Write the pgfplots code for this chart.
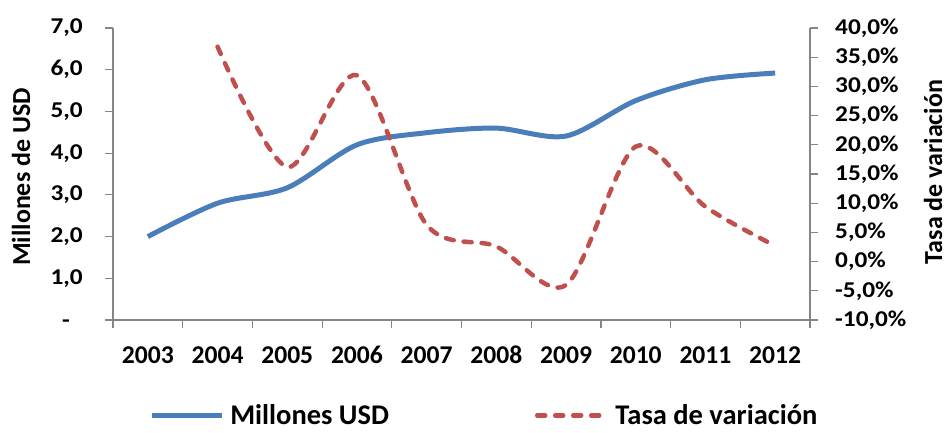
\documentclass[border=0pt]{standalone}
\usepackage{pgfplots}
\pgfplotsset{compat=1.18}
\usepackage{fontspec}
\setmainfont{Carlito}
\newfontfamily\ytfont{Carlito}[FakeStretch=1.12]
\definecolor{bl}{HTML}{4A7EBB}
\definecolor{rd}{HTML}{C0504D}
\definecolor{axc}{HTML}{868686}
\begin{document}
\begin{tikzpicture}[x=1pt,y=1pt]
\path[use as bounding box] (0,0) rectangle (947,432);
\pgfplotsset{
  common/.style={
    width=697pt, height=292pt, scale only axis,
    at={(113pt,112pt)}, anchor=south west,
    xmin=0, xmax=10,
    tick align=outside,
    major tick length=8pt, minor tick length=8pt,
    axis line style={axc, line width=1.2pt},
    every tick/.style={axc, line width=1.2pt},
    y tick label style={font=\ytfont\bfseries\fontsize{22.6}{23}\selectfont, inner sep=0pt},
  }
}
\begin{axis}[common,
  axis x line*=bottom, axis y line*=left,
  ymin=0, ymax=7,
  xtick={0.5,1.5,2.5,3.5,4.5,5.5,6.5,7.5,8.5,9.5},
  xticklabels={2003,2004,2005,2006,2007,2008,2009,2010,2011,2012},
  minor xtick={0,1,2,3,4,5,6,7,8,9,10},
  major x tick style={draw=none},
  x tick label style={font=\bfseries\fontsize{25.6}{26}\selectfont, inner sep=0pt, anchor=base, yshift=-35pt},
  ytick={0,1,2,3,4,5,6,7},
  yticklabels={{\phantom{0}-\phantom{0}},{1,0},{2,0},{3,0},{4,0},{5,0},{6,0},{7,0}},
  y tick label style={anchor=east, xshift=-22pt},
]
\addplot[bl, line width=5pt, smooth, tension=0.5] coordinates {
(0.5,2.00) (1.5,2.80) (2.5,3.17) (3.5,4.20) (4.5,4.49) (5.5,4.60) (6.5,4.41) (7.5,5.26) (8.5,5.76) (9.5,5.92)};
\end{axis}
\begin{axis}[common,
  axis x line=none, axis y line*=right,
  ymin=-10, ymax=40,
  ytick={-10,-5,0,5,10,15,20,25,30,35,40},
  yticklabels={{-10,0\%},{-5,0\%},{0,0\%},{5,0\%},{10,0\%},{15,0\%},{20,0\%},{25,0\%},{30,0\%},{35,0\%},{40,0\%}},
  y tick label style={anchor=west, xshift=17pt},
  legend style={at={(0.532,-0.327)}, anchor=center, draw=none, fill=none, inner sep=0pt,
    font=\bfseries\fontsize{28.5}{29}\selectfont,
    nodes={inner sep=1pt},
    /tikz/every odd column/.append style={column sep=5pt},
    /tikz/every even column/.append style={column sep=145pt}},
  legend columns=2,
  legend image code/.code={\draw[#1] (0pt,0pt) -- (70pt,0pt);},
]
\addlegendimage{bl, line width=5pt}
\addlegendentry{Millones USD}
\addplot[rd, line width=4.5pt, line cap=round, dash pattern=on 8pt off 10pt, smooth, tension=0.5] coordinates {
(1.5,36.8) (2.5,16.2) (3.5,31.9) (4.5,6.3) (5.5,2.6) (6.5,-4.0) (7.5,19.7) (8.5,9.4) (9.5,2.7)};
\addlegendentry{Tasa de variación}
\end{axis}
\node[rotate=90, anchor=base, inner sep=0pt, font=\bfseries\fontsize{26}{26}\selectfont] at (30,255) {Millones de USD};
\node[rotate=90, anchor=base, inner sep=0pt, font=\bfseries\fontsize{26}{26}\selectfont] at (942,260) {Tasa de variación};
\end{tikzpicture}
\end{document}
